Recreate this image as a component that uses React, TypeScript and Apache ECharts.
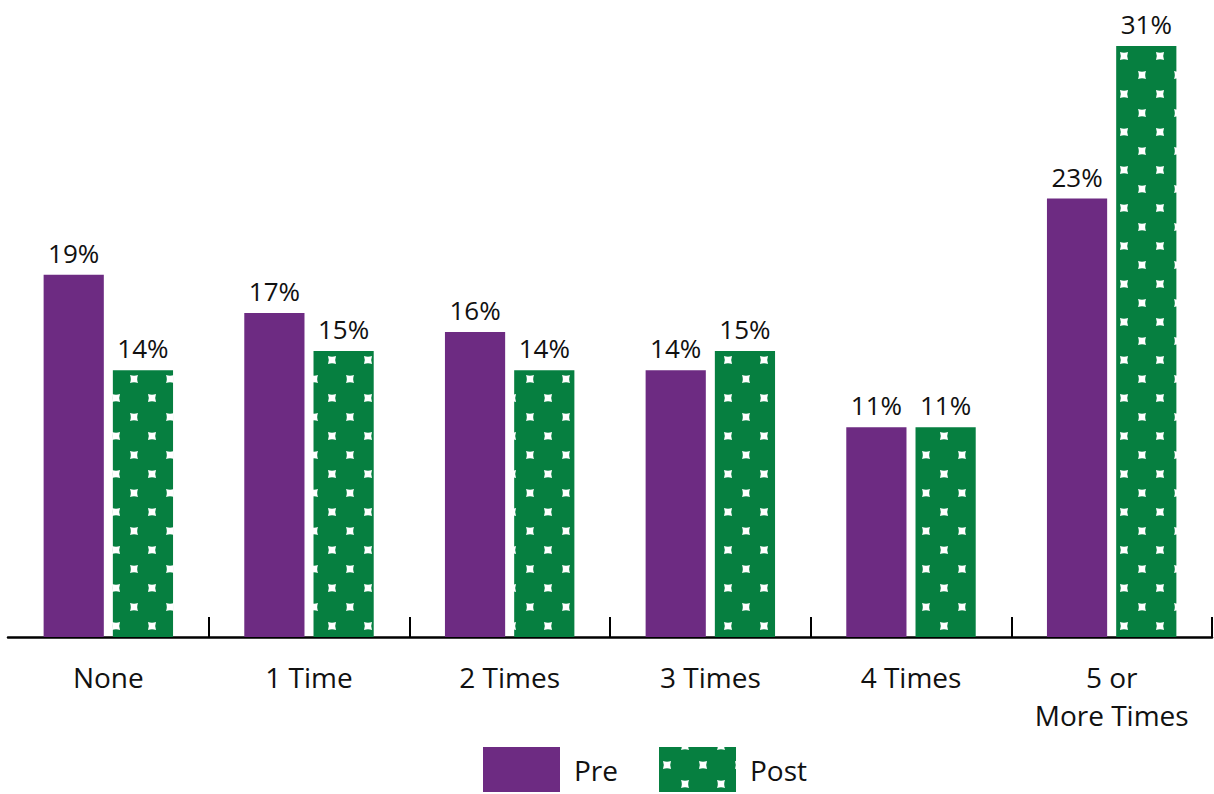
import React, { useEffect, useRef } from "react";
import * as echarts from "echarts";

const categories = ["None", "1 Time", "2 Times", "3 Times", "4 Times", "5 or\nMore Times"];
const preValues = [19, 17, 16, 14, 11, 23];
const postValues = [14, 15, 14, 15, 11, 31];
const seriesNames = ["Pre", "Post"];

const PURPLE = "#6D2B82";
const GREEN = "#067F40";
const FONT = "'Open Sans'";

function makePattern(): HTMLCanvasElement {
  const w = 36;
  const h = 38;
  const c = document.createElement("canvas");
  c.width = w;
  c.height = h;
  const ctx = c.getContext("2d")!;
  ctx.fillStyle = GREEN;
  ctx.fillRect(0, 0, w, h);
  ctx.fillStyle = "#ffffff";
  const star = (cx: number, cy: number) => {
    const s = 4;
    const k = 1.6;
    ctx.beginPath();
    ctx.moveTo(cx - s, cy - s);
    ctx.quadraticCurveTo(cx, cy - s + k, cx + s, cy - s);
    ctx.quadraticCurveTo(cx + s - k, cy, cx + s, cy + s);
    ctx.quadraticCurveTo(cx, cy + s - k, cx - s, cy + s);
    ctx.quadraticCurveTo(cx - s + k, cy, cx - s, cy - s);
    ctx.closePath();
    ctx.fill();
  };
  star(8, 18);
  star(26, 37);
  star(26, -1);
  return c;
}

export default function App() {
  const ref = useRef<HTMLDivElement>(null);
  useEffect(() => {
    if (!ref.current) return;
    const chart = echarts.init(ref.current, null, { renderer: "svg" });
    const pat = makePattern();
    const pattern: any = {
      image: pat.toDataURL(),
      repeat: "repeat",
      imageWidth: 36,
      imageHeight: 38,
    };
    const labelStyle = {
      show: true,
      position: "top" as const,
      distance: 9,
      formatter: "{c}%",
      color: "#111",
      fontFamily: FONT,
      fontSize: 26,
    };
    chart.setOption({
      animation: false,
      grid: { left: 8, right: 2, top: 27, bottom: 157, containLabel: false },
      legend: {
        top: 747,
        left: 483,
        padding: 0,
        itemWidth: 77,
        itemHeight: 45,
        itemGap: 41,
        icon: "rect",
        textStyle: { fontFamily: FONT, fontSize: 28, color: "#111", padding: [0, 0, 0, 9] },
        data: seriesNames,
      },
      xAxis: {
        type: "category",
        data: categories,
        axisLine: { lineStyle: { color: "#000", width: 2.5 } },
        axisTick: {
          show: true,
          inside: true,
          length: 20,
          lineStyle: { color: "#000", width: 2 },
          interval: (i: number) => i > 0,
        },
        axisLabel: {
          fontFamily: FONT,
          fontSize: 28,
          color: "#111",
          margin: 21,
          lineHeight: 38,
          interval: 0,
        },
      },
      yAxis: {
        type: "value",
        min: 0,
        max: 32,
        show: false,
        splitLine: { show: false },
      },
      series: [
        {
          name: seriesNames[0],
          type: "bar",
          data: preValues,
          barWidth: "30%",
          barGap: "15%",
          itemStyle: { color: PURPLE },
          label: labelStyle,
        },
        {
          name: seriesNames[1],
          type: "bar",
          data: postValues,
          barWidth: "30%",
          barGap: "15%",
          itemStyle: { color: pattern },
          label: labelStyle,
        },
      ],
    });
    return () => chart.dispose();
  }, []);
  return (
    <div
      ref={ref}
      style={{ position: "fixed", left: 0, top: 0, width: 1214, height: 794, background: "#fff" }}
    />
  );
}
